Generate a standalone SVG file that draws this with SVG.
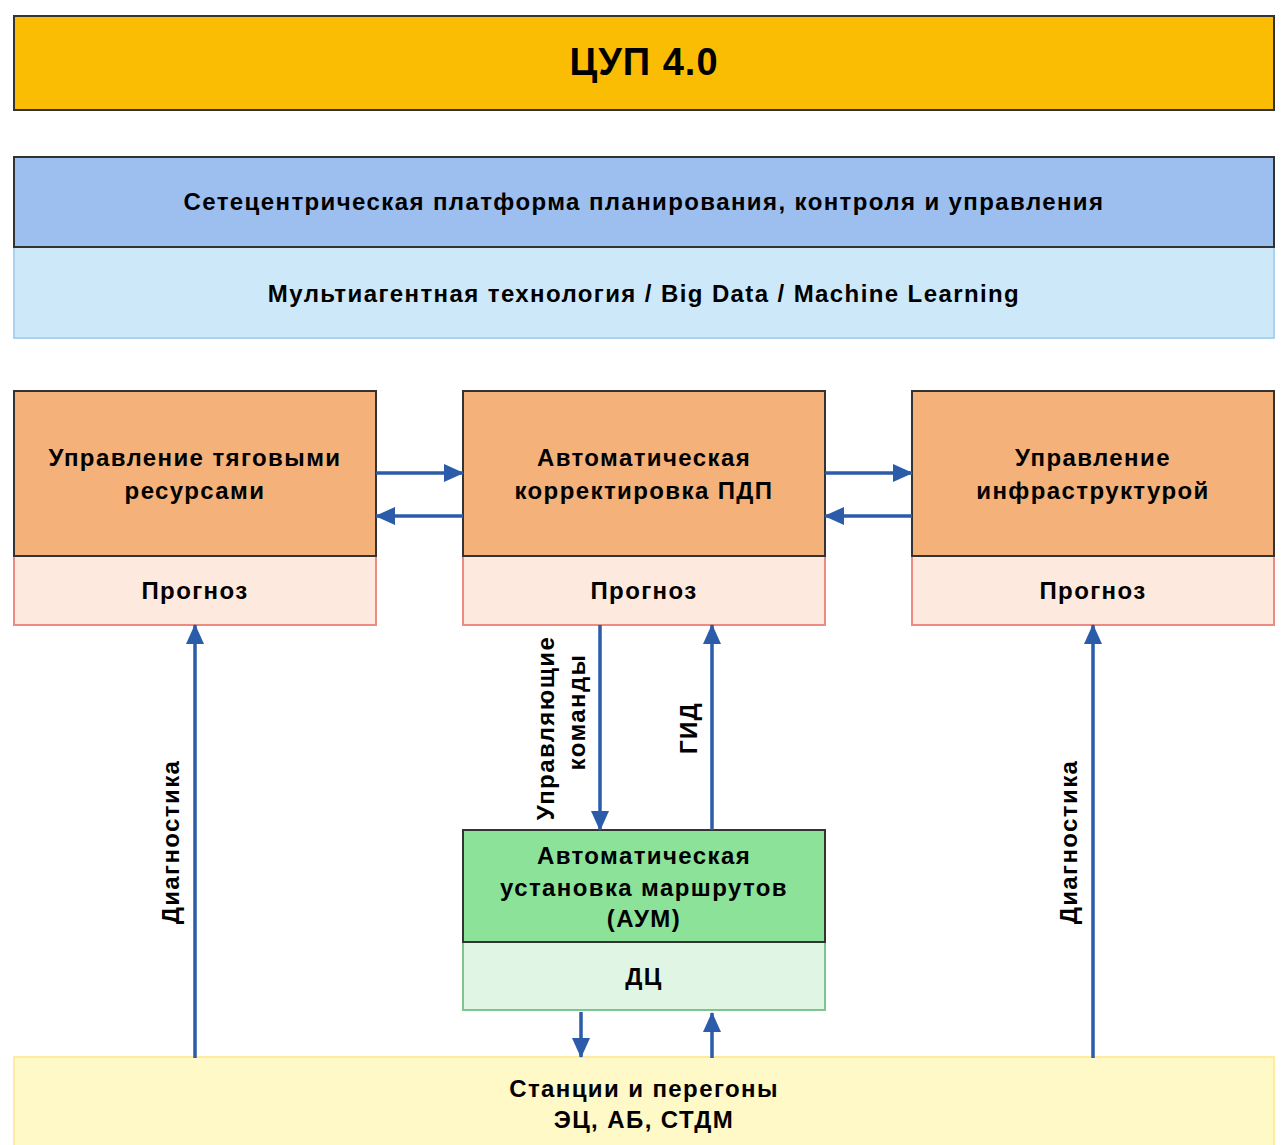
<svg xmlns="http://www.w3.org/2000/svg" width="1284" height="1145" viewBox="0 0 1284 1145">
<style>
text{font-family:"Liberation Sans",Arial,sans-serif;font-weight:bold;fill:#000;text-anchor:middle;dominant-baseline:central;font-size:24px;letter-spacing:1.4px}
.title{font-size:38px;letter-spacing:1px}
.dark{stroke:#333;stroke-width:2}
.conn line{stroke:#2A5CAA;stroke-width:3.5;fill:none;marker-end:url(#ah)}
</style>
<defs>
<marker id="ah" markerUnits="userSpaceOnUse" markerWidth="20" markerHeight="18" refX="19" refY="9" orient="auto">
<path d="M0,0 L20,9 L0,18 Z" fill="#2A5CAA"/>
</marker>
</defs>
<rect width="1284" height="1145" fill="#fff"/>
<g id="cup">
<rect x="14" y="16" width="1260" height="94" fill="#FBBC04" class="dark"/>
<text x="644" y="62" class="title">ЦУП 4.0</text>
</g>
<g id="platform">
<rect x="14" y="247" width="1260" height="91" fill="#CDE8F9" stroke="#A8D2F0" stroke-width="2"/>
<rect x="14" y="157" width="1260" height="90" fill="#9DBFEF" class="dark"/>
<text x="644" y="201">Сетецентрическая платформа планирования, контроля и управления</text>
<text x="644" y="293">Мультиагентная технология / Big Data / Machine Learning</text>
</g>
<g id="traction">
<rect x="14" y="556" width="362" height="69" fill="#FDE9DE" stroke="#EE8B80" stroke-width="2"/>
<rect x="14" y="391" width="362" height="165" fill="#F4B27A" class="dark"/>
<text x="195" y="457">Управление тяговыми</text>
<text x="195" y="490">ресурсами</text>
<text x="195" y="590">Прогноз</text>
</g>
<g id="pdp">
<rect x="463" y="556" width="362" height="69" fill="#FDE9DE" stroke="#EE8B80" stroke-width="2"/>
<rect x="463" y="391" width="362" height="165" fill="#F4B27A" class="dark"/>
<text x="644" y="457">Автоматическая</text>
<text x="644" y="490">корректировка ПДП</text>
<text x="644" y="590">Прогноз</text>
</g>
<g id="infra">
<rect x="912" y="556" width="362" height="69" fill="#FDE9DE" stroke="#EE8B80" stroke-width="2"/>
<rect x="912" y="391" width="362" height="165" fill="#F4B27A" class="dark"/>
<text x="1093" y="457">Управление</text>
<text x="1093" y="490">инфраструктурой</text>
<text x="1093" y="590">Прогноз</text>
</g>
<g id="aum">
<rect x="463" y="942" width="362" height="68" fill="#E0F5E4" stroke="#7DC48E" stroke-width="2"/>
<rect x="463" y="830" width="362" height="112" fill="#8DE29A" class="dark"/>
<text x="644" y="855">Автоматическая</text>
<text x="644" y="887">установка маршрутов</text>
<text x="644" y="918">(АУМ)</text>
<text x="644" y="976">ДЦ</text>
</g>
<g id="stations">
<rect x="14" y="1057" width="1260" height="96" fill="#FFF8C7" stroke="#FFEC9E" stroke-width="2"/>
<text x="644" y="1088">Станции и перегоны</text>
<text x="644" y="1119">ЭЦ, АБ, СТДМ</text>
</g>
<g id="connectors" class="conn">
<line x1="376" y1="473" x2="463" y2="473"/>
<line x1="463" y1="516" x2="376" y2="516"/>
<line x1="825" y1="473" x2="912" y2="473"/>
<line x1="912" y1="516" x2="825" y2="516"/>
<line x1="195" y1="1058" x2="195" y2="625"/>
<line x1="1093" y1="1058" x2="1093" y2="625"/>
<line x1="600" y1="625" x2="600" y2="830"/>
<line x1="712" y1="830" x2="712" y2="625"/>
<line x1="581" y1="1012" x2="581" y2="1057"/>
<line x1="712" y1="1058" x2="712" y2="1013"/>
</g>
<g id="labels">
<text transform="translate(170,842) rotate(-90)">Диагностика</text>
<text transform="translate(1068,842) rotate(-90)">Диагностика</text>
<text transform="translate(545,728) rotate(-90)">Управляющие</text>
<text transform="translate(576,712) rotate(-90)">команды</text>
<text transform="translate(688,728) rotate(-90)">ГИД</text>
</g>
</svg>
